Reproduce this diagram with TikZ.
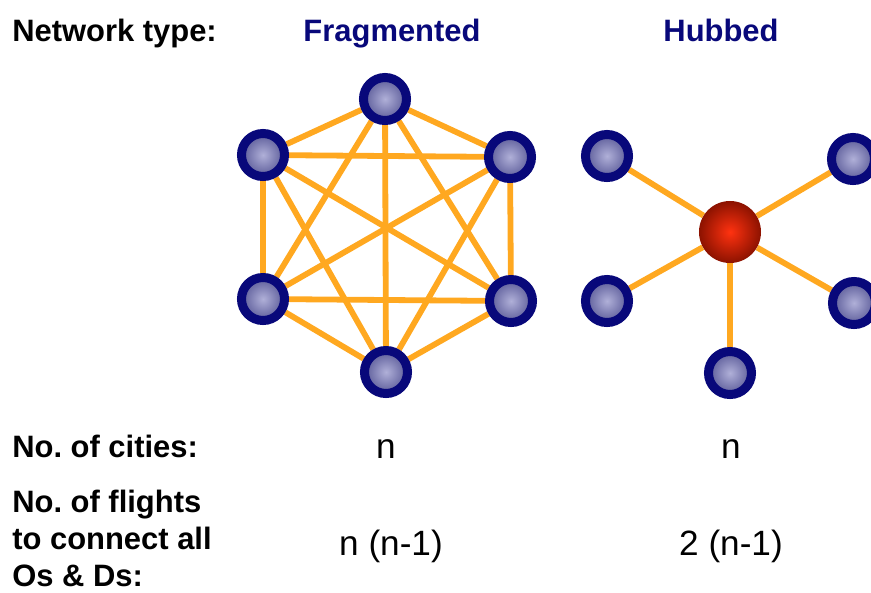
\documentclass[tikz,border=0pt]{standalone}
\usepackage{fontspec}
\setmainfont{Liberation Sans}
\usepackage{tikz}
\usepackage{xcolor}
\usetikzlibrary{backgrounds}
\definecolor{navy}{HTML}{08087A}
\definecolor{cityin}{HTML}{B0B0D8}
\definecolor{cityout}{HTML}{5A5A98}
\definecolor{route}{HTML}{FFA820}
\definecolor{hubin}{HTML}{FF3210}
\definecolor{hubout}{HTML}{8C1200}

\begin{document}
\begin{tikzpicture}[
  x=0.025cm, y=-0.025cm,
  city/.style={circle, draw=navy, line width=0.225cm, minimum size=1.075cm, inner sep=0pt,
    inner color=cityin, outer color=cityout},
  hub/.style={circle, minimum size=1.55cm, inner sep=0pt, inner color=hubin, outer color=hubout},
  route/.style={draw=route, line width=0.145cm},
  head/.style={font=\fontsize{22}{26}\selectfont\bfseries, anchor=base, inner xsep=0pt},
  label/.style={font=\fontsize{22}{26.5}\selectfont\bfseries, anchor=base west, align=left, inner xsep=0pt},
  count/.style={font=\fontsize{25}{30}\selectfont, anchor=base}
]
\clip (0,0) rectangle (871,593);
\useasboundingbox (0,0) rectangle (871,593);
% headings
\node[head, anchor=base west] (typelbl) at (12,41) {Network type:};
\node[head, text=navy] (fraglbl) at (392,41) {Fragmented};
\node[head, text=navy] (hublbl) at (721,41) {Hubbed};
% fragmented network
\node[city] (f1) at (385,99) {};
\node[city] (f2) at (510,157) {};
\node[city] (f3) at (511,301) {};
\node[city] (f4) at (386,372) {};
\node[city] (f5) at (263,299) {};
\node[city] (f6) at (263,155) {};
\begin{scope}[on background layer]
\foreach \i in {1,...,5} {
  \pgfmathtruncatemacro\nxt{\i+1}
  \foreach \j in {\nxt,...,6}
    \draw[route] (f\i) -- (f\j);
}
\end{scope}
% hubbed network
\node[hub] (hub) at (730,232) {};
\node[city] (h1) at (607,156) {};
\node[city] (h2) at (853,159) {};
\node[city] (h3) at (854,303) {};
\node[city] (h4) at (730,373) {};
\node[city] (h5) at (607,301) {};
\begin{scope}[on background layer]
\foreach \j in {1,...,5}
  \draw[route] (hub) -- (h\j);
\end{scope}
% rows
\node[label] (citylbl) at (12,457) {No.\ of cities:};
\node[label, anchor=north west] (flightlbl) at (12,485) {No.\ of flights\\to connect all\\Os \& Ds:};
\node[count] (fragcity) at (386,458) {n};
\node[count] (hubcity) at (731,458) {n};
\node[count] (fragflt) at (391,555) {n (n-1)};
\node[count] (hubflt) at (731,555) {2 (n-1)};
\end{tikzpicture}
\end{document}
